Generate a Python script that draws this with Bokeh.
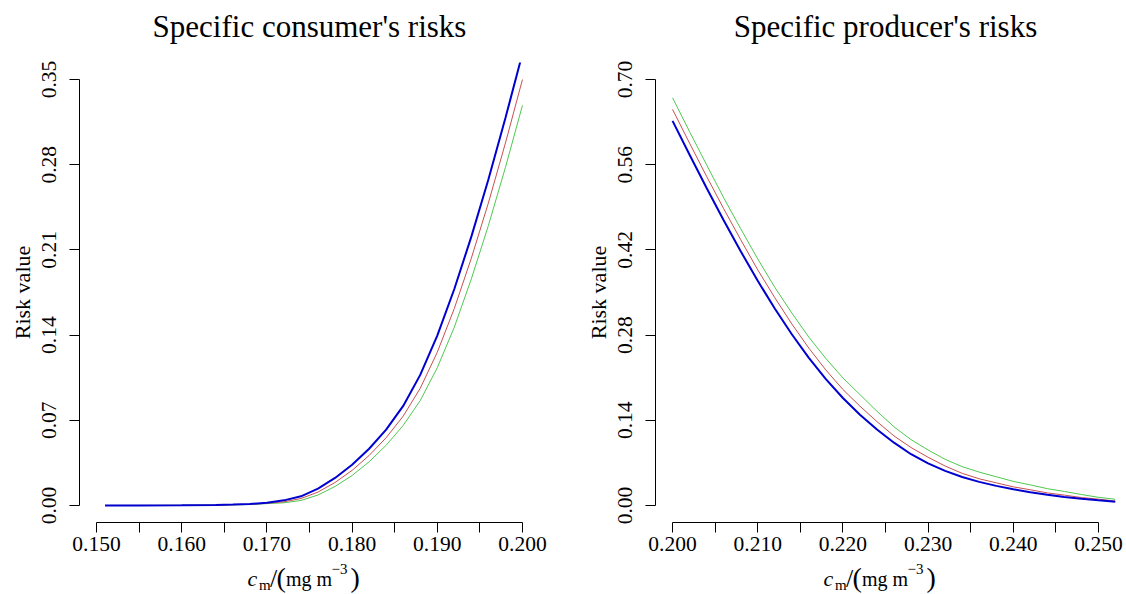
from bokeh.plotting import figure
from bokeh.layouts import row, column
from bokeh.models import Range1d, FixedTicker, NumeralTickFormatter, Label
from bokeh.embed import file_html
from bokeh.resources import INLINE

# ---------------- data ----------------
cons_x = [0.151, 0.155, 0.160, 0.164, 0.166, 0.168, 0.170, 0.172, 0.174, 0.176, 0.178, 0.180,
          0.182, 0.184, 0.186, 0.188, 0.190, 0.192, 0.194, 0.196, 0.198, 0.200]
cons_blue = [0.0000, 0.0000, 0.0001, 0.0004, 0.0007, 0.0012, 0.0022, 0.0042, 0.0075, 0.0139, 0.0226, 0.0334,
             0.0466, 0.0623, 0.0818, 0.1073, 0.1396, 0.1779, 0.2209, 0.2679, 0.3184, 0.3714]
cons_red = [0.0000, 0.0000, 0.0001, 0.0003, 0.0006, 0.0010, 0.0018, 0.0030, 0.0057, 0.0110, 0.0189, 0.0288,
            0.0411, 0.0557, 0.0734, 0.0963, 0.1259, 0.1619, 0.2032, 0.2486, 0.2978, 0.3500]
cons_green = [0.0000, 0.0000, 0.0001, 0.0003, 0.0005, 0.0008, 0.0015, 0.0022, 0.0041, 0.0086, 0.0156, 0.0246,
              0.0359, 0.0495, 0.0658, 0.0862, 0.1132, 0.1465, 0.1862, 0.2300, 0.2778, 0.3288]

prod_x = [0.200, 0.202, 0.204, 0.206, 0.208, 0.210, 0.212, 0.214, 0.216, 0.218, 0.220, 0.222, 0.224,
          0.226, 0.228, 0.230, 0.232, 0.234, 0.236, 0.238, 0.240, 0.242, 0.244, 0.246, 0.248, 0.250, 0.252]
prod_blue = [0.6320, 0.5764, 0.5218, 0.4688, 0.4178, 0.3692, 0.3236, 0.2814, 0.2426, 0.2076, 0.1766, 0.1492, 0.1248,
             0.1032, 0.0842, 0.0692, 0.0568, 0.0468, 0.0388, 0.0322, 0.0266, 0.0218, 0.0176, 0.0140, 0.0110, 0.0084, 0.0062]
prod_red = [0.6510, 0.5954, 0.5408, 0.4878, 0.4368, 0.3872, 0.3416, 0.2984, 0.2586, 0.2226, 0.1906, 0.1632, 0.1378,
            0.1142, 0.0952, 0.0792, 0.0648, 0.0528, 0.0438, 0.0372, 0.0306, 0.0258, 0.0206, 0.0170, 0.0130, 0.0104, 0.0072]
prod_green = [0.6700, 0.6144, 0.5598, 0.5058, 0.4548, 0.4052, 0.3586, 0.3164, 0.2766, 0.2416, 0.2096, 0.1822, 0.1548,
              0.1292, 0.1082, 0.0912, 0.0758, 0.0638, 0.0548, 0.0472, 0.0396, 0.0338, 0.0276, 0.0230, 0.0180, 0.0134, 0.0102]

cons_xticks = [0.150, 0.160, 0.170, 0.180, 0.190, 0.200]
cons_xminor = [0.155, 0.165, 0.175, 0.185, 0.195]
cons_yticks = [0.00, 0.07, 0.14, 0.21, 0.28, 0.35]
prod_xticks = [0.200, 0.210, 0.220, 0.230, 0.240, 0.250]
prod_xminor = [0.205, 0.215, 0.225, 0.235, 0.245]
prod_yticks = [0.00, 0.14, 0.28, 0.42, 0.56, 0.70]

titles = ["Specific consumer's risks", "Specific producer's risks"]
ylabel = "Risk value"

FONT = "Liberation Serif"
BLUE, RED, GREEN = "#0000D0", "#C85050", "#50C850"

# x-axis title pieces: text, size(px), style, left x (px in panel), baseline y (px from window top)
XLAB_PARTS = [
    ("c", 22, "italic", 247, 585),
    ("m", 15, "normal", 258.5, 590),
    ("/", 26, "normal", 269.5, 587),
    ("(", 28, "normal", 276, 586),
    ("mg m", 20, "normal", 285.5, 585),
    ("\u22123", 15, "normal", 331, 574),
    (")", 28, "normal", 350, 586),
]
WIN_H = 594
TOP_H = 46          # strip holding the title
BOT_H = 34          # strip holding the x-axis title
MAIN_H = WIN_H - TOP_H - BOT_H
FRAME_L = 79        # left edge of each plotting frame (px from panel left)
FRAME_W = 460
FRAME_TOP = 62      # px from window top
TITLE_BASE = 36.7   # title baseline, px from window top
TITLE_SIZE = 31
MID = 0.3375        # distance baseline -> middle of text box, in em


def strip(width, height):
    s = figure(width=width, height=height, output_backend="svg", toolbar_location=None,
               x_range=Range1d(0, 1), y_range=Range1d(0, 1),
               x_axis_type=None, y_axis_type=None, min_border=0)
    s.title.visible = False
    s.outline_line_color = None
    s.grid.visible = False
    s.background_fill_color = "white"
    s.border_fill_color = "white"
    return s


def make_panel(title, xs, blue, red, green, xr, yr, xticks, xminor, yticks, xbounds, ybounds,
               width, border_right):
    # --- title strip
    t = strip(width, TOP_H)
    t.add_layout(Label(x=FRAME_W / 2, y=TOP_H - (TITLE_BASE - MID * TITLE_SIZE),
                       x_units="screen", y_units="screen",
                       text=title, text_font=FONT, text_font_size=f"{TITLE_SIZE}px",
                       text_align="center", text_baseline="middle", text_color="black"))

    # --- main plot
    p = figure(width=width, height=MAIN_H, output_backend="svg", toolbar_location=None,
               x_range=Range1d(*xr), y_range=Range1d(*yr),
               min_border_left=FRAME_L, min_border_right=border_right,
               min_border_top=FRAME_TOP - TOP_H,
               min_border_bottom=MAIN_H - (FRAME_TOP - TOP_H) - FRAME_W)
    p.title.visible = False
    p.outline_line_color = None
    p.grid.visible = False
    p.background_fill_color = "white"
    p.border_fill_color = "white"

    p.line(xs, green, line_color=GREEN, line_width=1)
    p.line(xs, red, line_color=RED, line_width=1)
    p.line(xs, blue, line_color=BLUE, line_width=2)

    xa = p.xaxis[0]
    xa.ticker = FixedTicker(ticks=xticks, minor_ticks=xminor)
    xa.formatter = NumeralTickFormatter(format="0.000")
    xa.bounds = xbounds
    ya = p.yaxis[0]
    ya.ticker = FixedTicker(ticks=yticks)
    ya.formatter = NumeralTickFormatter(format="0.00")
    ya.bounds = ybounds
    ya.major_label_orientation = "parallel"
    ya.axis_label = ylabel
    ya.axis_label_text_font = FONT
    ya.axis_label_text_font_size = "22px"
    ya.axis_label_text_font_style = "normal"
    ya.axis_label_standoff = 5
    for ax in (xa, ya):
        ax.axis_line_color = "black"
        ax.major_tick_line_color = "black"
        ax.minor_tick_line_color = "black"
        ax.major_tick_out = 10
        ax.major_tick_in = 0
        ax.minor_tick_out = 10
        ax.minor_tick_in = 0
        ax.major_label_text_font = FONT
        ax.major_label_text_font_size = "21.5px"
        ax.major_label_text_color = "black"
        ax.axis_label_text_color = "black"
    xa.major_label_standoff = 4
    ya.major_label_standoff = 13

    # --- x-axis title strip
    b = strip(width, BOT_H)
    for txt, size, style, lx, by in XLAB_PARTS:
        b.add_layout(Label(x=lx - FRAME_L, y=WIN_H - (by - MID * size),
                           x_units="screen", y_units="screen",
                           text=txt, text_font=FONT, text_font_size=f"{size}px", text_font_style=style,
                           text_align="left", text_baseline="middle", text_color="black"))
    return column(t, p, b)


p1 = make_panel(titles[0], cons_x, cons_blue, cons_red, cons_green,
                (0.148, 0.202), (-0.014, 0.364), cons_xticks, cons_xminor, cons_yticks,
                (0.150, 0.200), (0.00, 0.35), 576, 37)
p2 = make_panel(titles[1], prod_x, prod_blue, prod_red, prod_green,
                (0.198, 0.252), (-0.028, 0.728), prod_xticks, prod_xminor, prod_yticks,
                (0.200, 0.250), (0.00, 0.70), 550, 11)

layout = row(p1, p2)
open("out.html", "w").write(file_html(layout, INLINE))
